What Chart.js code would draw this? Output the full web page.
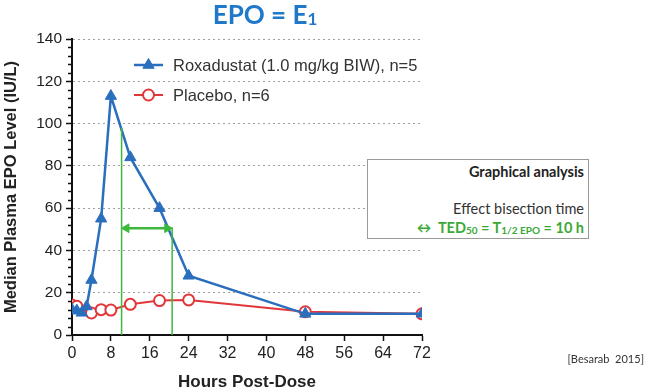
<!DOCTYPE html>
<html>
<head>
<meta charset="utf-8">
<script src="https://cdn.jsdelivr.net/npm/chart.js@4.4.1/dist/chart.umd.min.js"></script>
<style>
    body { margin: 0; background: #fff; }
    #wrap { position: relative; width: 646px; height: 390px; }
    #myChart { position: absolute; left: 0; top: 0; }
    #title {
        position: absolute; left: 165px; width: 200px; top: -2px;
        text-align: center; font: bold 26px Lato, "Open Sans", sans-serif; color: #1f78c8;
    }
    #title sub { font-size: 17px; vertical-align: -1px; }
    #box {
        position: absolute; left: 367px; top: 159px; width: 222px; height: 80px;
        border: 1px solid #9a9a9a; background: #fff; box-sizing: border-box;
        font-family: Lato, "Open Sans", sans-serif; text-align: right;
    }
    #box .head { position: absolute; right: 4px; top: 3px; font-weight: bold; font-size: 14.5px; color: #222; }
    #box .line1 { position: absolute; right: 4px; top: 40px; font-size: 14.5px; color: #333; }
    #box .line2 { position: absolute; right: 4px; top: 59px; font-size: 14.5px; font-weight: bold; color: #3aaa35; white-space: nowrap; }
    #box sub { font-size: 10px; vertical-align: -1px; }
    #cite { position: absolute; right: 2px; top: 352px; font: 11px Lato, "Open Sans", sans-serif; color: #333; }
</style>
</head>
<body>
<div id="wrap">
    <canvas id="myChart" width="646" height="390"></canvas>
    <div id="title">EPO = E<sub>1</sub></div>
    <div id="box">
        <div class="head">Graphical analysis</div>
        <div class="line1">Effect bisection time</div>
        <div class="line2">&#8596;&nbsp; TED<sub>50</sub> = T<sub>1/2 EPO</sub> = 10 h</div>
    </div>
    <div id="cite">[Besarab&nbsp; 2015]</div>
</div>
<script>
/*---------------------------------------------------------------*/
/*----------------------------- data ----------------------------*/
/*---------------------------------------------------------------*/
const roxaHours = [0, 1, 2, 3, 4, 6, 8, 12, 18, 24, 48, 72];
const roxaEPO = [12, 11.5, 10.5, 13.5, 26, 55, 113, 84, 60, 28, 10, 10];

const placeboHours = [0, 1, 4, 6, 8, 12, 18, 24, 48, 72];
const placeboEPO = [14.2, 13.6, 10.4, 12, 11.8, 14.5, 16.3, 16.6, 11, 10];

const xTicks = [0, 8, 16, 24, 32, 40, 48, 56, 64, 72];
const yTicks = [0, 20, 40, 60, 80, 100, 120, 140];

// 二等分時間 (graphical analysis)
const bisectHours = [10.2, 20.6];
const bisectTop = [98, 51];
const arrowLevel = 50.5;

const legendNames = ['Roxadustat (1.0 mg/kg BIW), n=5', 'Placebo, n=6'];

const blue = '#2a6fbd';
const red = '#e2373a';
const green = '#3cb83c';
const axisFont = 'Liberation Sans, Arial, sans-serif';

const toPoints = (xs, ys) => xs.map((x, i) => ({ x: x, y: ys[i] }));

/*---------------------------------------------------------------*/
/*---------------------------- plugins --------------------------*/
/*---------------------------------------------------------------*/
// 圖內圖例
const innerLegend = {
    id: 'innerLegend',
    afterDraw(chart) {
        const ctx = chart.ctx;
        const rows = [
            { ds: 3, y: 65 },
            { ds: 4, y: 95 }
        ];
        rows.forEach((row, i) => {
            const ds = chart.data.datasets[row.ds];
            ctx.save();
            ctx.strokeStyle = ds.borderColor;
            ctx.lineWidth = ds.borderWidth;
            ctx.beginPath();
            ctx.moveTo(134, row.y);
            ctx.lineTo(163, row.y);
            ctx.stroke();
            ctx.fillStyle = ds.pointBackgroundColor;
            ctx.strokeStyle = ds.pointBorderColor;
            ctx.lineWidth = ds.pointBorderWidth;
            Chart.helpers.drawPoint(ctx, {
                pointStyle: ds.pointStyle, radius: ds.pointRadius,
                borderWidth: ds.pointBorderWidth, rotation: 0
            }, 148.5, row.y);
            ctx.fillStyle = '#333';
            ctx.font = '16.5px ' + axisFont;
            ctx.textBaseline = 'middle';
            ctx.fillText(legendNames[i], 173, row.y + 1);
            ctx.restore();
        });
    }
};

// y軸小刻度
const minorTicks = {
    id: 'minorTicks',
    afterDraw(chart) {
        const y = chart.scales.y;
        const ctx = chart.ctx;
        ctx.save();
        ctx.strokeStyle = '#111';
        ctx.lineWidth = 1.5;
        ctx.beginPath();
        for (let v = 0; v <= 140; v += 4) {
            if (v % 20 === 0) continue;
            const py = Math.round(y.getPixelForValue(v)) + 0.5;
            ctx.moveTo(y.right - 4, py);
            ctx.lineTo(y.right, py);
        }
        ctx.stroke();
        ctx.restore();
    }
};

/*---------------------------------------------------------------*/
/*----------------------------- chart ---------------------------*/
/*---------------------------------------------------------------*/
const data = {
    datasets: [
        {
            label: 'bisect1',
            data: toPoints([bisectHours[0], bisectHours[0]], [bisectTop[0], 0]),
            borderColor: green, borderWidth: 1.5, pointRadius: 0, order: 0
        },
        {
            label: 'bisect2',
            data: toPoints([bisectHours[1], bisectHours[1]], [bisectTop[1], 0]),
            borderColor: green, borderWidth: 1.5, pointRadius: 0, order: 0
        },
        {
            label: 'arrow',
            data: toPoints([bisectHours[0] + 1, bisectHours[1] - 1], [arrowLevel, arrowLevel]),
            borderColor: green, borderWidth: 2.5, order: 0,
            pointStyle: 'triangle', pointRadius: 5, pointRotation: [-90, 90],
            pointBackgroundColor: green, pointBorderColor: green, pointBorderWidth: 1
        },
        {
            label: legendNames[0],
            data: toPoints(roxaHours, roxaEPO),
            borderColor: blue, borderWidth: 2.5, order: 1,
            pointStyle: 'triangle', pointRadius: 6.5,
            pointBackgroundColor: blue, pointBorderColor: blue, pointBorderWidth: 1
        },
        {
            label: legendNames[1],
            data: toPoints(placeboHours, placeboEPO),
            borderColor: red, borderWidth: 2, order: 2,
            pointStyle: 'circle', pointRadius: 5.5,
            pointBackgroundColor: '#fff', pointBorderColor: red, pointBorderWidth: 2
        }
    ]
};

const config = {
    type: 'line',
    data: data,
    options: {
        responsive: false,
        animation: false,
        layout: { padding: { left: 0, top: 39, right: 224, bottom: 0 } },
        plugins: {
            legend: { display: false },
            tooltip: { enabled: false }
        },
        scales: {
            x: {
                type: 'linear', min: 0, max: 72,
                afterFit: s => { s.height = 55; },
                afterBuildTicks: s => { s.ticks = xTicks.map(v => ({ value: v })); },
                ticks: { color: '#222', font: { size: 16, family: axisFont }, padding: 3, autoSkip: false, maxRotation: 0 },
                grid: { drawOnChartArea: false, tickLength: 6, tickColor: '#111', tickWidth: 1.5 },
                border: { color: '#111', width: 2 },
                title: {
                    display: true, text: 'Hours Post-Dose', color: '#222',
                    font: { size: 17, weight: 'bold', family: axisFont }, padding: { top: 3, bottom: -3 }
                }
            },
            y: {
                min: 0, max: 140,
                afterFit: s => { s.width = 72; },
                afterBuildTicks: s => { s.ticks = yTicks.map(v => ({ value: v })); },
                ticks: { color: '#222', font: { size: 15.5, family: axisFont }, padding: 4, autoSkip: false },
                grid: { color: '#a0a0a0', lineWidth: 1, tickLength: 6, tickColor: '#111', tickWidth: 1.5 },
                border: { color: '#111', width: 2, dash: [2, 3] },
                title: {
                    display: true, text: 'Median Plasma EPO Level (IU/L)', color: '#222',
                    font: { size: 16.5, weight: 'bold', family: axisFont }, padding: { top: 2, bottom: 0 }
                }
            }
        }
    },
    plugins: [innerLegend, minorTicks]
};
const myChart = new Chart(
    document.getElementById('myChart'),
    config
);
</script>
</body>
</html>
